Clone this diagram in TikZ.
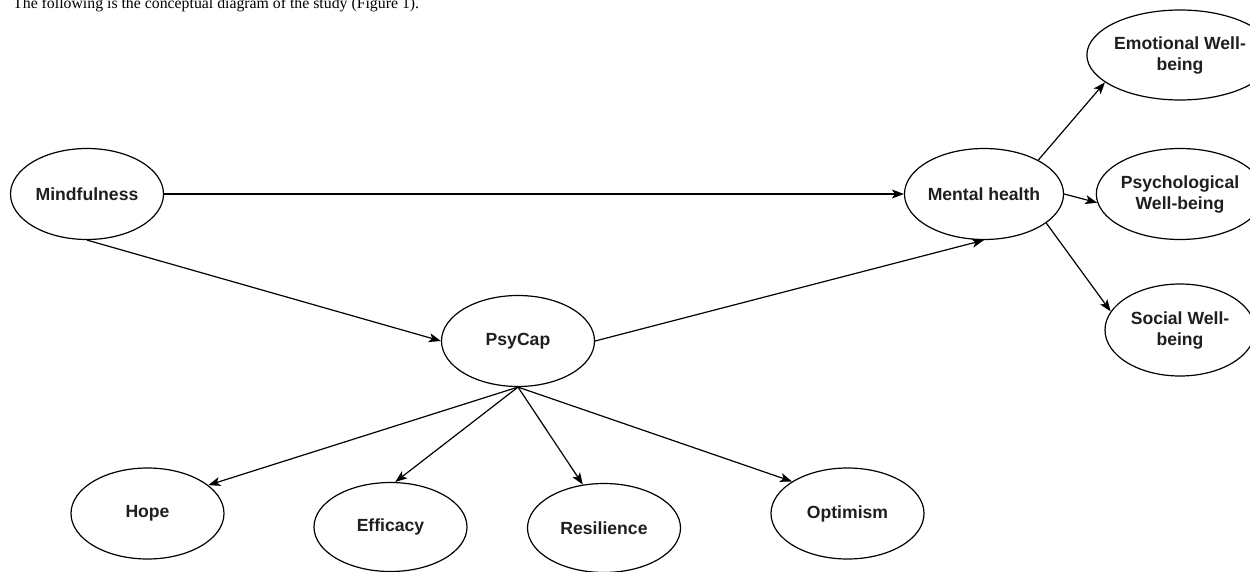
\documentclass[tikz,border=0pt]{standalone}
\usepackage{fontspec}
\setmainfont{Liberation Sans}
\newfontfamily\serifcap{Liberation Serif}
\usetikzlibrary{shapes.geometric,arrows.meta}
\begin{document}
\begin{tikzpicture}[x=1pt,y=-1pt,
  latent/.style={ellipse,draw=black,line width=1.2pt,fill=white,inner sep=0pt,
    minimum width=153pt,minimum height=91pt,align=center,
    font=\fontsize{17.6}{21}\selectfont\bfseries,text=black!88},
  path/.style={draw=black,line width=1.2pt,-{Stealth[length=12pt,width=9pt,inset=3pt]}},
  caption/.style={anchor=base west,inner sep=0pt,font=\serifcap\fontsize{15.8}{18}\selectfont}
]
\useasboundingbox (0,0) rectangle (1250,572);
\clip (0,0) rectangle (1250,572);
\node[caption] (cap) at (13,8.5) {The following is the conceptual diagram of the study (Figure 1).};

\node[latent] (mind) at (87,194) {Mindfulness};
\node[latent] (mh) at (984,194) {Mental health};
\node[latent] (psy) at (518,341) {PsyCap};
\node[latent,minimum width=150pt,minimum height=90pt] (emo) at (1180,55) {Emotional Well-\\being};
\node[latent,minimum width=150pt] (pwb) at (1180,194) {Psychological\\Well-being};
\node[latent,minimum width=150pt,minimum height=92pt] (swb) at (1180,330) {Social Well-\\being};
\node[latent] (hope) at (147.5,513.5) {Hope};
\node[latent,minimum height=89pt] (eff) at (390.5,527) {Efficacy};
\node[latent,minimum height=89pt] (res) at (604,528) {Resilience};
\node[latent] (opt) at (847.5,513.5) {Optimism};

\draw[path] (mind.east) -- (mh.west);
\draw[path] (mind.south) -- (psy.west);
\draw[path] (psy.east) -- (mh.south);
\draw[path] (mh.32) -- (emo.200);
\draw[path] (mh.east) -- (pwb.186);
\draw[path] (mh.-25) -- (swb.165);
\draw[path] (psy.south) -- (hope.25);
\draw[path] (psy.south) -- (eff.84);
\draw[path] (psy.south) -- (res.116);
\draw[path] (psy.south) -- (opt.150);
\end{tikzpicture}
\end{document}
